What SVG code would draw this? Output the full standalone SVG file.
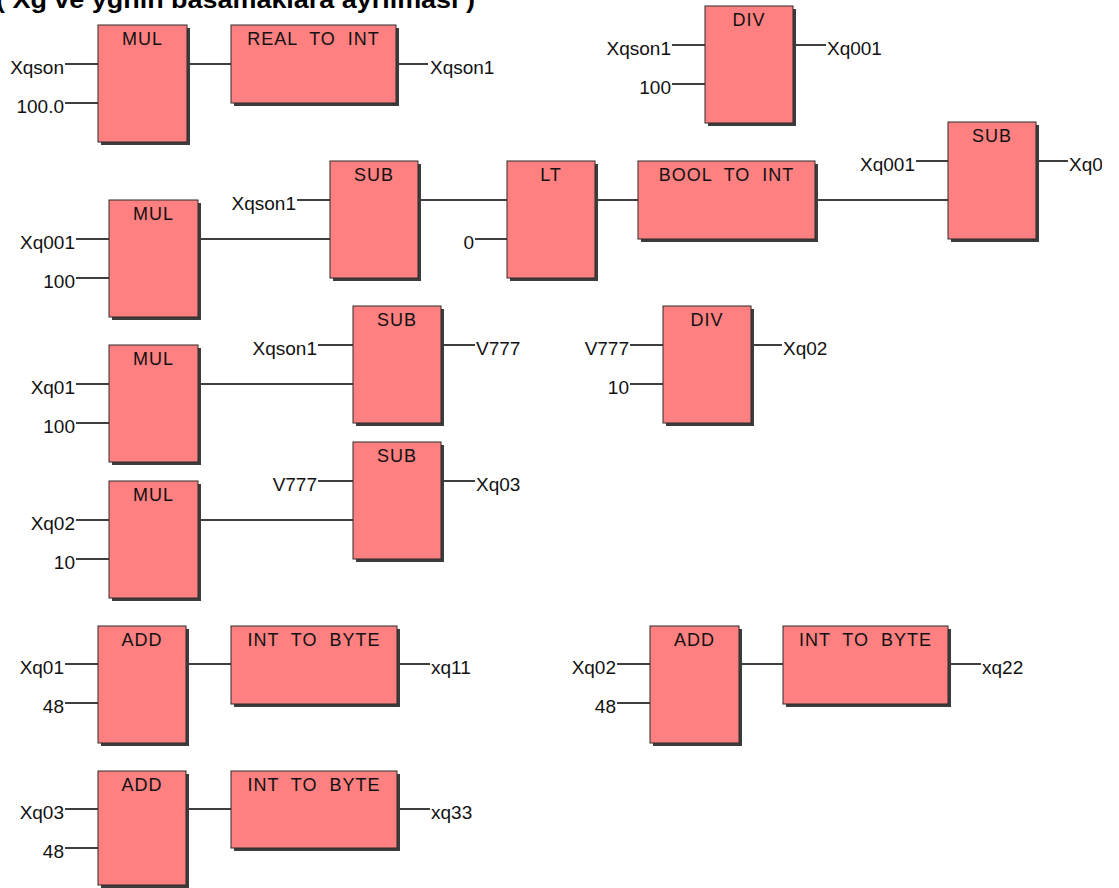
<svg xmlns="http://www.w3.org/2000/svg" width="1119" height="888" viewBox="0 0 1119 888">
<defs>
<style>
.b{fill:#FF8080;stroke:#2a2a2a;stroke-width:1}
.sh{fill:#3c3c3c}
.t{font-family:"Liberation Sans",Arial,sans-serif;font-size:18px;fill:#111;letter-spacing:1px;word-spacing:6px;text-anchor:middle}
.l{font-family:"Liberation Sans",Arial,sans-serif;font-size:19px;fill:#111}
.r{text-anchor:end}
.w{stroke:#000;stroke-width:1.3;fill:none}
.hd{font-family:"Liberation Sans",Arial,sans-serif;font-size:24px;font-weight:bold;fill:#000}
</style>
<clipPath id="cut"><rect x="0" y="0" width="1102" height="888"/></clipPath>
</defs>
<rect x="0" y="0" width="1119" height="888" fill="#fff"/>
<text class="hd" x="-4" y="8" textLength="479" lengthAdjust="spacingAndGlyphs">( Xg ve ygnin basamaklara ayrilmasi )</text>

<g id="connectors">
<path class="w" d="M65,64H98M65,103H98M187,64H231M396,64H428"/>
<path class="w" d="M672,45H705M672,84H705M793,45H826"/>
<path class="w" d="M916,161H948M1036,161H1068"/>
<path class="w" d="M76,239H109M76,278H109M198,239H330M297,200H330M418,200H507M475,239H507M595,200H638M815,200H948"/>
<path class="w" d="M76,384H109M76,423H109M198,384H353M318,345H353M441,345H475"/>
<path class="w" d="M630,345H663M630,384H663M751,345H782"/>
<path class="w" d="M76,520H109M76,559H109M198,520H353M318,481H353M441,481H475"/>
<path class="w" d="M65,664H98M65,703H98M186,664H231M397,664H430"/>
<path class="w" d="M617,664H650M617,703H650M739,664H783M948,664H981"/>
<path class="w" d="M65,809H98M65,848H98M186,809H231M397,809H430"/>
</g>

<g id="mul1">
<rect class="sh" x="101" y="28" width="89" height="117"/><rect class="b" x="98" y="25" width="89" height="117"/>
<text class="t" x="142.5" y="45">MUL</text>
<text class="l r" x="64" y="74">Xqson</text><text class="l r" x="64" y="113">100.0</text>
</g>
<g id="real_to_int">
<rect class="sh" x="234" y="28" width="165" height="78"/><rect class="b" x="231" y="25" width="165" height="78"/>
<text class="t" x="313.5" y="45">REAL TO INT</text>
<text class="l" x="430" y="74">Xqson1</text>
</g>
<g id="div1">
<rect class="sh" x="708" y="9" width="88" height="117"/><rect class="b" x="705" y="6" width="88" height="117"/>
<text class="t" x="749" y="26">DIV</text>
<text class="l r" x="671" y="55">Xqson1</text><text class="l r" x="671" y="94">100</text>
<text class="l" x="827" y="55">Xq001</text>
</g>
<g id="sub_right">
<rect class="sh" x="951" y="125" width="88" height="117"/><rect class="b" x="948" y="122" width="88" height="117"/>
<text class="t" x="992" y="142">SUB</text>
<text class="l r" x="915" y="171">Xq001</text>
<text class="l" x="1069" y="171" clip-path="url(#cut)">Xq0</text>
</g>
<g id="mul2">
<rect class="sh" x="112" y="203" width="89" height="117"/><rect class="b" x="109" y="200" width="89" height="117"/>
<text class="t" x="153.5" y="220">MUL</text>
<text class="l r" x="75" y="249">Xq001</text><text class="l r" x="75" y="288">100</text>
</g>
<g id="sub2">
<rect class="sh" x="333" y="164" width="88" height="117"/><rect class="b" x="330" y="161" width="88" height="117"/>
<text class="t" x="374" y="181">SUB</text>
<text class="l r" x="296" y="210">Xqson1</text>
</g>
<g id="lt">
<rect class="sh" x="510" y="164" width="88" height="117"/><rect class="b" x="507" y="161" width="88" height="117"/>
<text class="t" x="551" y="181">LT</text>
<text class="l r" x="474" y="249">0</text>
</g>
<g id="bool_to_int">
<rect class="sh" x="641" y="164" width="177" height="78"/><rect class="b" x="638" y="161" width="177" height="78"/>
<text class="t" x="726.5" y="181">BOOL TO INT</text>
</g>
<g id="mul3">
<rect class="sh" x="112" y="348" width="89" height="117"/><rect class="b" x="109" y="345" width="89" height="117"/>
<text class="t" x="153.5" y="365">MUL</text>
<text class="l r" x="75" y="394">Xq01</text><text class="l r" x="75" y="433">100</text>
</g>
<g id="sub3">
<rect class="sh" x="356" y="309" width="88" height="117"/><rect class="b" x="353" y="306" width="88" height="117"/>
<text class="t" x="397" y="326">SUB</text>
<text class="l r" x="317" y="355">Xqson1</text>
<text class="l" x="476" y="355">V777</text>
</g>
<g id="div2">
<rect class="sh" x="666" y="309" width="88" height="117"/><rect class="b" x="663" y="306" width="88" height="117"/>
<text class="t" x="707" y="326">DIV</text>
<text class="l r" x="629" y="355">V777</text><text class="l r" x="629" y="394">10</text>
<text class="l" x="783" y="355">Xq02</text>
</g>
<g id="mul4">
<rect class="sh" x="112" y="484" width="89" height="117"/><rect class="b" x="109" y="481" width="89" height="117"/>
<text class="t" x="153.5" y="501">MUL</text>
<text class="l r" x="75" y="530">Xq02</text><text class="l r" x="75" y="569">10</text>
</g>
<g id="sub4">
<rect class="sh" x="356" y="445" width="88" height="117"/><rect class="b" x="353" y="442" width="88" height="117"/>
<text class="t" x="397" y="462">SUB</text>
<text class="l r" x="317" y="491">V777</text>
<text class="l" x="476" y="491">Xq03</text>
</g>
<g id="add1">
<rect class="sh" x="101" y="629" width="88" height="117"/><rect class="b" x="98" y="626" width="88" height="117"/>
<text class="t" x="142" y="646">ADD</text>
<text class="l r" x="64" y="674">Xq01</text><text class="l r" x="64" y="713">48</text>
</g>
<g id="int_to_byte1">
<rect class="sh" x="234" y="629" width="166" height="78"/><rect class="b" x="231" y="626" width="166" height="78"/>
<text class="t" x="314" y="646">INT TO BYTE</text>
<text class="l" x="431" y="674">xq11</text>
</g>
<g id="add2">
<rect class="sh" x="653" y="629" width="89" height="117"/><rect class="b" x="650" y="626" width="89" height="117"/>
<text class="t" x="694.5" y="646">ADD</text>
<text class="l r" x="616" y="674">Xq02</text><text class="l r" x="616" y="713">48</text>
</g>
<g id="int_to_byte2">
<rect class="sh" x="786" y="629" width="165" height="78"/><rect class="b" x="783" y="626" width="165" height="78"/>
<text class="t" x="865.5" y="646">INT TO BYTE</text>
<text class="l" x="982" y="674">xq22</text>
</g>
<g id="add3">
<rect class="sh" x="101" y="774" width="88" height="114"/><rect class="b" x="98" y="771" width="88" height="114"/>
<text class="t" x="142" y="791">ADD</text>
<text class="l r" x="64" y="819">Xq03</text><text class="l r" x="64" y="858">48</text>
</g>
<g id="int_to_byte3">
<rect class="sh" x="234" y="774" width="166" height="77"/><rect class="b" x="231" y="771" width="166" height="77"/>
<text class="t" x="314" y="791">INT TO BYTE</text>
<text class="l" x="431" y="819">xq33</text>
</g>
</svg>
